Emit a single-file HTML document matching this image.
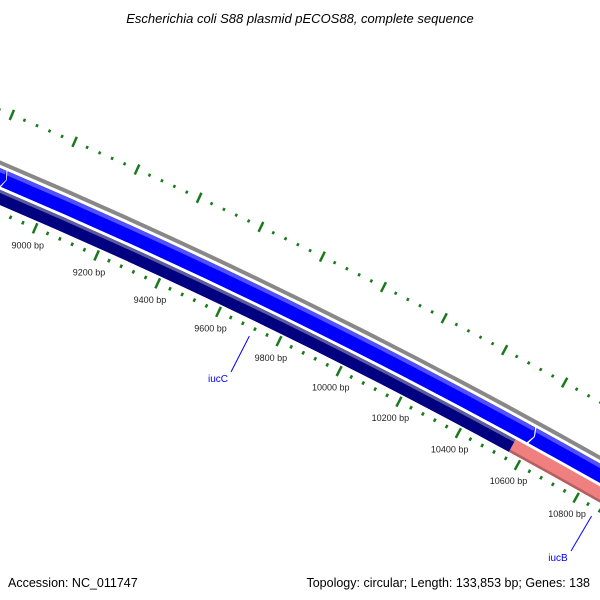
<!DOCTYPE html>
<html><head><meta charset="utf-8"><style>
body{margin:0;background:#fff;overflow:hidden}
svg{display:block;font-family:"Liberation Sans",sans-serif}
</style></head><body>
<svg id="c" width="600" height="600" viewBox="0 0 600 600">
<g id="g"></g>
<rect x="0" y="0" width="600" height="32" fill="#fff"/>
<text x="300" y="23" text-anchor="middle" font-size="13" font-style="italic" fill="#000">Escherichia coli S88 plasmid pECOS88, complete sequence</text>
<text x="8" y="587" font-size="12.5" fill="#000">Accession: NC_011747</text>
<text x="590" y="587" text-anchor="end" font-size="12.5" fill="#000">Topology: circular; Length: 133,853 bp; Genes: 138</text>
</svg>
<script>
const innerTickBp=[];for(let b=8600;b<=11200;b+=40)innerTickBp.push(b);
const outerTickBp=[];for(let b=8405;b<=11205;b+=40)outerTickBp.push(b);
const labelBp=[9000,9200,9400,9600,9800,10000,10200,10400,10600,10800];
const forwardGenes=[[8000,8854],[8858,10592],[10597,12000]];
const reverseGenes=[[8000,10559,'#000080','#5a5a9e','#000080'],[10559,12000,'#f08080','#f08080','#b46060']];
const geneLabels=[["iucC",9714,218,382],["iucB",10867,558,561]];
const CX=-2308,CY=5612,A0=-66.48,DPB=0.003278;
const ang=b=>(A0+(b-9000)*DPB)*Math.PI/180;
const P=(r,a)=>[CX+r*Math.cos(a),CY+r*Math.sin(a)];
const g=document.getElementById('g');
const NS='http://www.w3.org/2000/svg';
function mk(t,at){const e=document.createElementNS(NS,t);for(const k in at)e.setAttribute(k,at[k]);g.appendChild(e);return e;}
function arcPath(r1,r2,a1,a2){const p1=P(r2,a1),p2=P(r2,a2),p3=P(r1,a2),p4=P(r1,a1);
return `M${p1}A${r2},${r2} 0 0 1 ${p2}L${p3}A${r1},${r1} 0 0 0 ${p4}Z`;}
// outer ticks
outerTickBp.forEach((b,i)=>{const a=ang(b);const long=((b-8805)%200===0);
const p=P(long?5961:5965,a),q=P(long?5972:5968,a);
const e=mk('line',{});
e.setAttribute('x1',p[0]);e.setAttribute('y1',p[1]);e.setAttribute('x2',q[0]);e.setAttribute('y2',q[1]);
e.setAttribute('stroke','#1a7a1a');e.setAttribute('stroke-width','2.5');

});
// backbone
const bb=mk('path',{d:arcPath(5916,5920,ang(8000),ang(12000)),fill:'#888'});


// forward genes
forwardGenes.forEach(([s,e2])=>{
 const a1=ang(s),a2=ang(e2),tip=ang(e2+10);
 const m=P(5904.5,tip),p1=P(5913,a1),p2=P(5913,a2),p3=P(5896,a2),p4=P(5896,a1),n=P(5904.5,ang(s+8));
 const el=mk('path',{d:`M${p1}A5913,5913 0 0 1 ${p2}L${m}L${p3}A5896,5896 0 0 0 ${p4}L${n}Z`,fill:'#0000ff'});
 
 
 const hl=mk('path',{d:arcPath(5909,5913,ang(s+3),a2),fill:'#5050ff'});
 
 
});
reverseGenes.forEach(([s,e2,c,top,bot])=>{
 const el=mk('path',{d:arcPath(5879,5893,ang(s),ang(e2)),fill:c});
 
 
 const t=mk('path',{d:arcPath(5890,5893,ang(s),ang(e2)),fill:top});
 
 
 const b=mk('path',{d:arcPath(5879,5881.5,ang(s),ang(e2)),fill:bot});
 
 
});
// inner ticks
innerTickBp.forEach(b=>{const long=(b%200===0);const a=ang(b);
const p=P(long?5866:5870,a),q=P(long?5877:5873.5,a);const e=mk('line',{});
e.setAttribute('x1',p[0]);e.setAttribute('y1',p[1]);e.setAttribute('x2',q[0]);e.setAttribute('y2',q[1]);
e.setAttribute('stroke','#1a7a1a');e.setAttribute('stroke-width','2.5');

});
labelBp.forEach(b=>{const p=P(5853,ang(b));const t=mk('text',{x:p[0],y:p[1]+3,'text-anchor':'middle','font-size':'9',fill:'#222'});
t.textContent=b+' bp';

});
geneLabels.forEach(([n,b,x,y])=>{const p=P(5863,ang(b));
const l=mk('line',{x1:p[0],y1:p[1],x2:x+13,y2:y-10,stroke:'#0000ff','stroke-width':1});


const t=mk('text',{x:x,y:y,'text-anchor':'middle','font-size':'10',fill:'#0000ff'});t.textContent=n;

});
</script>
</body></html>
